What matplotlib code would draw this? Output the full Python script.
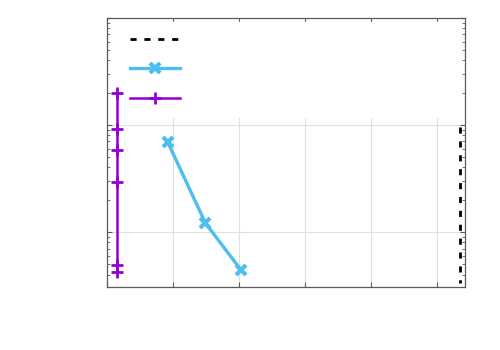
import matplotlib
matplotlib.use("Agg")
import matplotlib.pyplot as plt
from matplotlib.lines import Line2D

# series (log y axis)
purple_x = [0.15, 0.15, 0.15, 0.15, 0.15, 0.15]
purple_y = [20.0, 9.2, 5.8, 2.9, 0.49, 0.42]

blue_x = [0.92, 1.49, 2.03]
blue_y = [6.9, 1.21, 0.44]

black_x = [5.35, 5.35]
black_y = [9.6, 0.33]

x_ticks = [0, 1, 2, 3, 4, 5]
x_lim = (0, 5.42)
y_lim = (0.306, 100)

purple = "#9400D3"
blue = "#4DBEEE"
spine = "#5a5a5a"

fig = plt.figure(figsize=(5, 3.5), dpi=100)
ax = fig.add_axes([0.214, 0.18, 0.716, 0.769])
ax.set_yscale("log")
ax.set_xlim(*x_lim)
ax.set_ylim(*y_lim)
ax.set_xticks(x_ticks)
ax.set_axisbelow(True)
ax.grid(True, which="major", color="#e0e0e0", lw=0.8)

ax.plot(black_x, black_y, color="black", lw=2, dashes=(2.2, 2.8), zorder=2)
ax.plot(blue_x, blue_y, color=blue, lw=2.4, marker="x", ms=7, mew=3, zorder=2)
ax.plot(purple_x, purple_y, color=purple, lw=1.8, marker="+", ms=8, mew=2, zorder=2)

ax.tick_params(which="both", direction="in", top=True, right=True,
               labelbottom=False, labelleft=False, color=spine)
ax.tick_params(which="major", length=3.5, width=0.8)
ax.tick_params(which="minor", length=2, width=0.6)
for s in ax.spines.values():
    s.set_color(spine)
    s.set_linewidth(0.9)

handles = [
    Line2D([], [], color="black", lw=2, dashes=(2.2, 2.8)),
    Line2D([], [], color=blue, lw=2.4, marker="x", ms=7, mew=3),
    Line2D([], [], color=purple, lw=1.8, marker="+", ms=8, mew=2),
]
leg = ax.legend(handles, ["", "", ""], loc="upper left", mode="expand",
                bbox_to_anchor=(0.0335, 0.0, 0.955, 0.985), borderaxespad=0,
                fontsize=10, borderpad=0.8, labelspacing=1.1, handlelength=3.6,
                handletextpad=0.5, frameon=True, fancybox=False,
                facecolor="white", edgecolor="white", framealpha=1)
leg.set_zorder(1)

fig.savefig("out.png", dpi=100)
